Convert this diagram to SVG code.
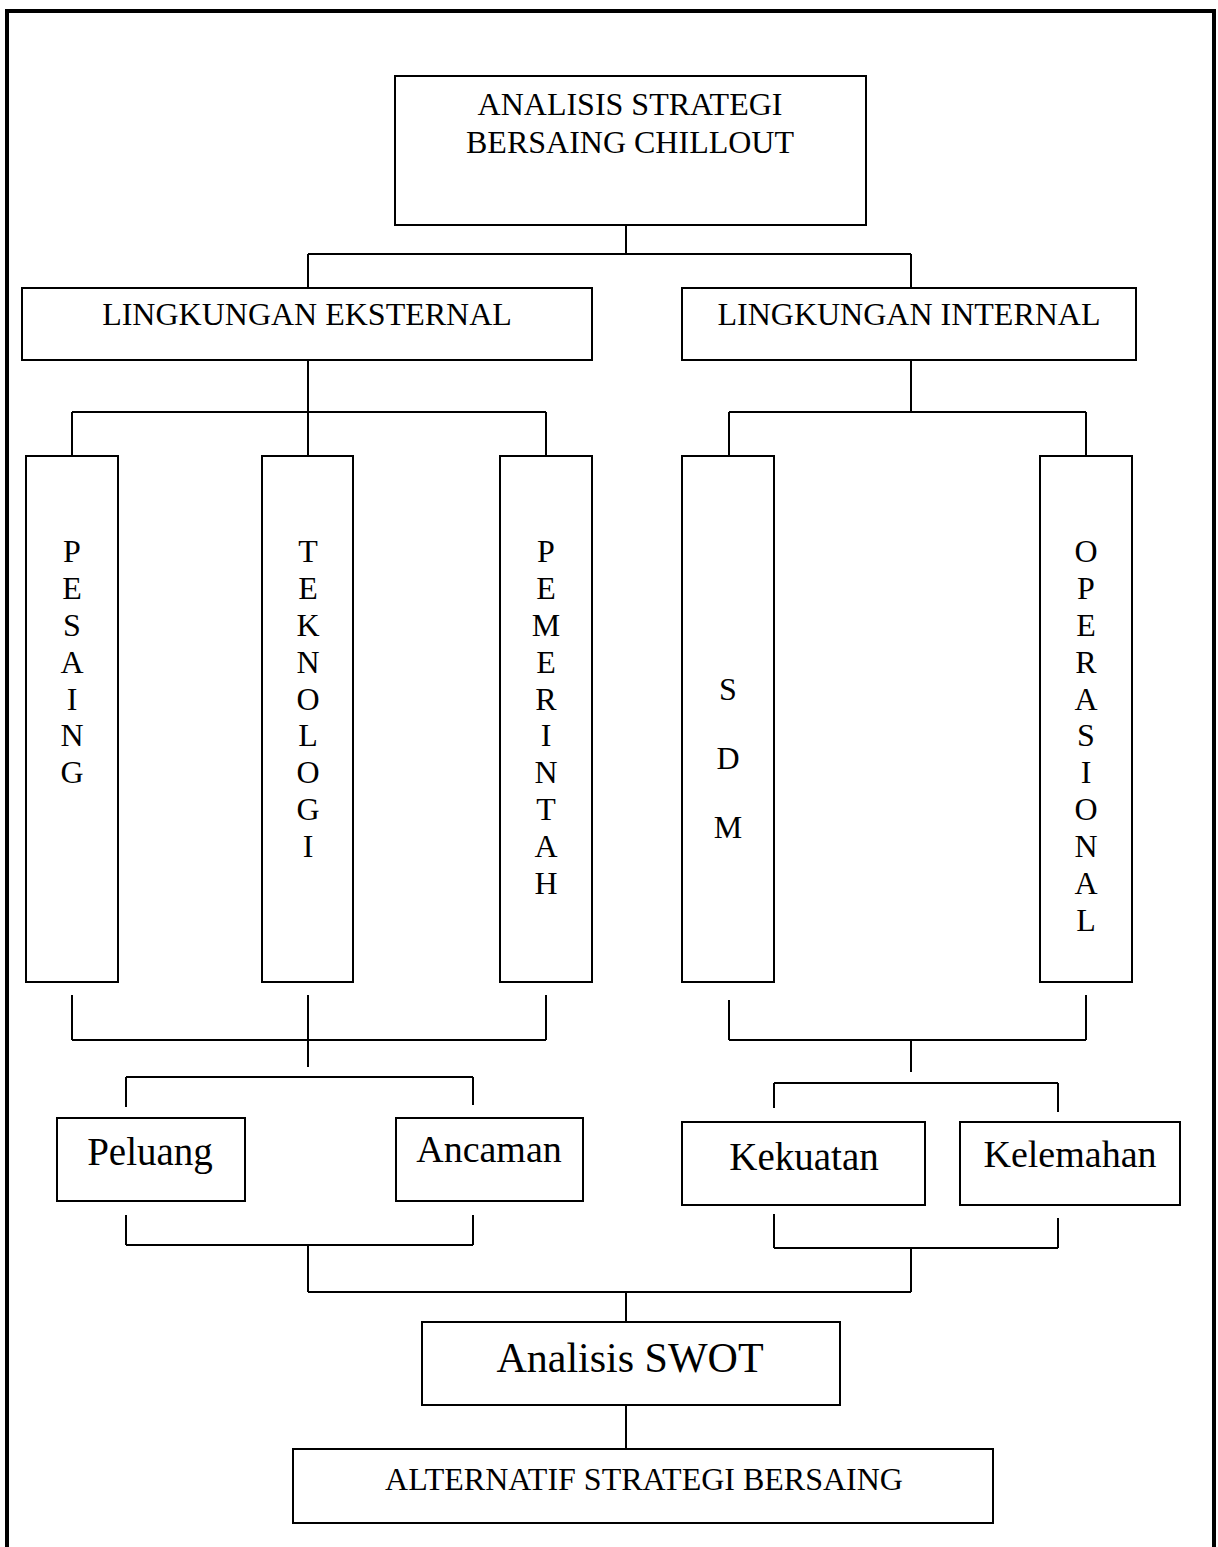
<svg xmlns="http://www.w3.org/2000/svg" width="1218" height="1547" viewBox="0 0 1218 1547">
<style>
.box{fill:#fff;stroke:#000;stroke-width:2}
.ln{fill:none;stroke:#000;stroke-width:2}
.t{font-family:"Liberation Serif","Times New Roman",serif;fill:#000;text-anchor:middle}
.s32{font-size:32px}
.s38{font-size:38px}
.s39{font-size:39px}
.s42{font-size:42px}
</style>
<rect width="1218" height="1547" fill="#fff"/>
<path d="M7,1550 V11 H1214 V1550" fill="none" stroke="#000" stroke-width="4"/>
<g id="connectors">
<path class="ln" d="M626,225 V254 M308,254 H911 M308,254 V288 M911,254 V288"/>
<path class="ln" d="M308,360 V456 M72,412 H546 M72,412 V456 M546,412 V456"/>
<path class="ln" d="M911,360 V412 M729,412 H1086 M729,412 V458 M1086,412 V456"/>
<path class="ln" d="M72,995 V1040 M546,995 V1040 M72,1040 H546 M308,995 V1067"/>
<path class="ln" d="M126,1077 H473 M126,1077 V1107 M473,1077 V1105"/>
<path class="ln" d="M729,1000 V1040 M1086,995 V1040 M729,1040 H1086 M911,1040 V1072"/>
<path class="ln" d="M774,1083 H1058 M774,1083 V1108 M1058,1083 V1112"/>
<path class="ln" d="M126,1215 V1245 M473,1215 V1245 M126,1245 H473 M308,1245 V1292"/>
<path class="ln" d="M774,1214 V1248 M1058,1218 V1248 M774,1248 H1058 M911,1248 V1292"/>
<path class="ln" d="M308,1292 H911 M626,1292 V1322 M626,1405 V1449"/>
</g>
<g id="n-analisis-strategi">
<rect class="box" x="395" y="76" width="471" height="149"/>
<text class="t s32" x="630" y="115">ANALISIS STRATEGI</text>
<text class="t s32" x="630" y="153">BERSAING CHILLOUT</text>
</g>
<g id="n-eksternal">
<rect class="box" x="22" y="288" width="570" height="72"/>
<text class="t s32" x="307" y="325">LINGKUNGAN EKSTERNAL</text>
</g>
<g id="n-internal">
<rect class="box" x="682" y="288" width="454" height="72"/>
<text class="t s32" x="909" y="325">LINGKUNGAN INTERNAL</text>
</g>
<g id="n-pesaing">
<rect class="box" x="26" y="456" width="92" height="526"/>
<text class="t s32" x="72" y="562">P</text>
<text class="t s32" x="72" y="599">E</text>
<text class="t s32" x="72" y="636">S</text>
<text class="t s32" x="72" y="673">A</text>
<text class="t s32" x="72" y="710">I</text>
<text class="t s32" x="72" y="746">N</text>
<text class="t s32" x="72" y="783">G</text>
</g>
<g id="n-teknologi">
<rect class="box" x="262" y="456" width="91" height="526"/>
<text class="t s32" x="308" y="562">T</text>
<text class="t s32" x="308" y="599">E</text>
<text class="t s32" x="308" y="636">K</text>
<text class="t s32" x="308" y="673">N</text>
<text class="t s32" x="308" y="710">O</text>
<text class="t s32" x="308" y="746">L</text>
<text class="t s32" x="308" y="783">O</text>
<text class="t s32" x="308" y="820">G</text>
<text class="t s32" x="308" y="857">I</text>
</g>
<g id="n-pemerintah">
<rect class="box" x="500" y="456" width="92" height="526"/>
<text class="t s32" x="546" y="562">P</text>
<text class="t s32" x="546" y="599">E</text>
<text class="t s32" x="546" y="636">M</text>
<text class="t s32" x="546" y="673">E</text>
<text class="t s32" x="546" y="710">R</text>
<text class="t s32" x="546" y="746">I</text>
<text class="t s32" x="546" y="783">N</text>
<text class="t s32" x="546" y="820">T</text>
<text class="t s32" x="546" y="857">A</text>
<text class="t s32" x="546" y="894">H</text>
</g>
<g id="n-sdm">
<rect class="box" x="682" y="456" width="92" height="526"/>
<text class="t s32" x="728" y="700">S</text>
<text class="t s32" x="728" y="769">D</text>
<text class="t s32" x="728" y="838">M</text>
</g>
<g id="n-operasional">
<rect class="box" x="1040" y="456" width="92" height="526"/>
<text class="t s32" x="1086" y="562">O</text>
<text class="t s32" x="1086" y="599">P</text>
<text class="t s32" x="1086" y="636">E</text>
<text class="t s32" x="1086" y="673">R</text>
<text class="t s32" x="1086" y="710">A</text>
<text class="t s32" x="1086" y="746">S</text>
<text class="t s32" x="1086" y="783">I</text>
<text class="t s32" x="1086" y="820">O</text>
<text class="t s32" x="1086" y="857">N</text>
<text class="t s32" x="1086" y="894">A</text>
<text class="t s32" x="1086" y="931">L</text>
</g>
<g id="n-peluang">
<rect class="box" x="57" y="1118" width="188" height="83"/>
<text class="t s39" x="150" y="1165">Peluang</text>
</g>
<g id="n-ancaman">
<rect class="box" x="396" y="1118" width="187" height="83"/>
<text class="t s38" x="489" y="1162">Ancaman</text>
</g>
<g id="n-kekuatan">
<rect class="box" x="682" y="1122" width="243" height="83"/>
<text class="t s39" x="804" y="1170">Kekuatan</text>
</g>
<g id="n-kelemahan">
<rect class="box" x="960" y="1122" width="220" height="83"/>
<text class="t s38" x="1070" y="1167">Kelemahan</text>
</g>
<g id="n-swot">
<rect class="box" x="422" y="1322" width="418" height="83"/>
<text class="t s42" x="630" y="1372">Analisis SWOT</text>
</g>
<g id="n-alternatif">
<rect class="box" x="293" y="1449" width="700" height="74"/>
<text class="t s32" x="644" y="1490">ALTERNATIF STRATEGI BERSAING</text>
</g>
</svg>
